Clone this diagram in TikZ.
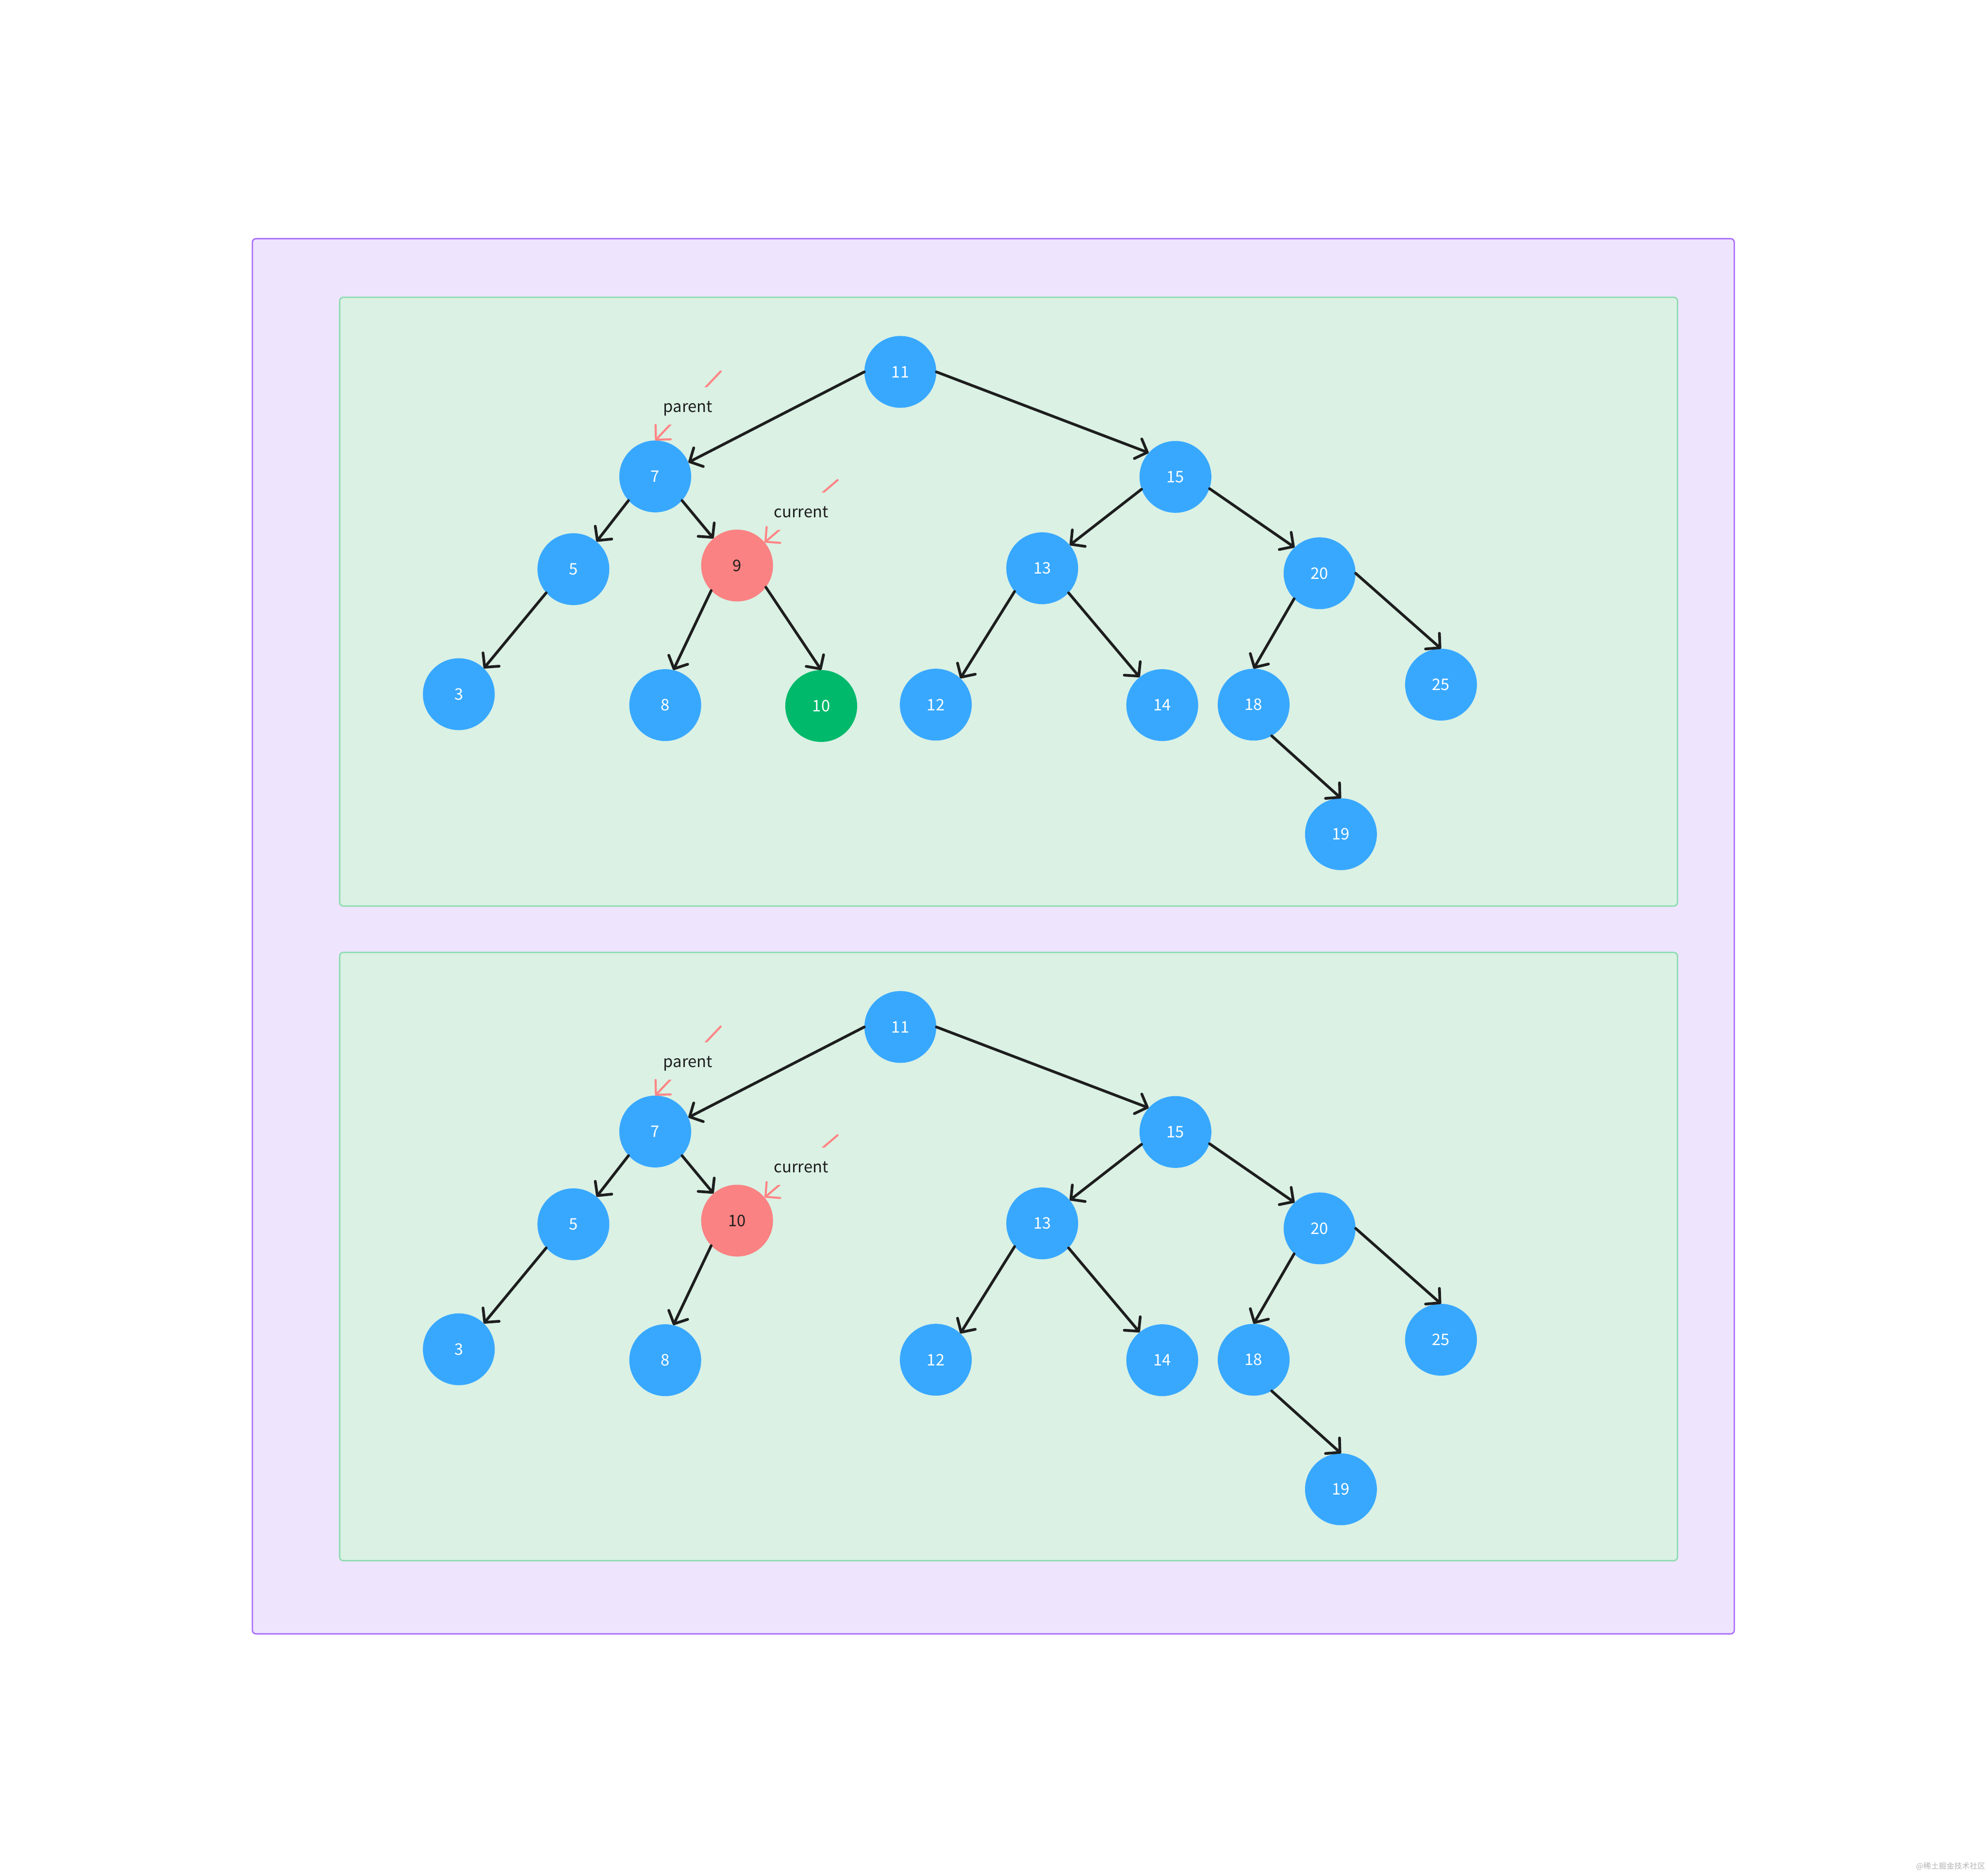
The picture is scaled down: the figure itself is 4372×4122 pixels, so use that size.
\documentclass[tikz,border=0pt]{standalone}
\usepackage{fontspec}
\usetikzlibrary{arrows.meta}
\newfontfamily\srcfont{Noto Sans CJK SC}
\definecolor{nodeblue}{HTML}{38A8FF}
\definecolor{nodered}{HTML}{FA8282}
\definecolor{nodegreen}{HTML}{00B96B}
\definecolor{ptrcol}{HTML}{FF8585}
\definecolor{greenbg}{HTML}{DAF1E4}
\definecolor{greenbd}{HTML}{8CDCAF}
\definecolor{purplebg}{HTML}{EEE4FE}
\definecolor{purplebd}{HTML}{A86EFA}
\definecolor{edgecol}{HTML}{1E1E1E}
\definecolor{wmcol}{HTML}{B4B4B4}
\tikzset{
  bnode/.style={circle, fill=nodeblue, minimum size=158pt, inner sep=0pt, text=white,
    font=\srcfont\fontsize{35}{42}\selectfont},
  rnode/.style={bnode, fill=nodered, text=edgecol},
  gnode/.style={bnode, fill=nodegreen},
  edge/.style={draw=edgecol, line width=6pt, line cap=round,
    -{Straight Barb[length=22pt,width=46pt,line cap=round,line join=round]}},
  ptr/.style={draw=ptrcol, line width=4.5pt, line cap=round,
    -{Straight Barb[length=23pt,width=46pt,line cap=round,line join=round]}},
  ptrlabel/.style={fill=greenbg, text=edgecol, font=\srcfont\fontsize{35}{42}\selectfont,
    inner xsep=4pt, inner ysep=25pt, text height=30pt, text depth=2pt},
  panel/.style={fill=greenbg, draw=greenbd, line width=3pt, rounded corners=8pt},
  outerpanel/.style={fill=purplebg, draw=purplebd, line width=3pt, rounded corners=8pt}
}
\begin{document}
\begin{tikzpicture}[x=1pt, y=-1pt]
\useasboundingbox (0,0) rectangle (4372,4122);
\fill[white] (0,0) rectangle (4372,4122);
\draw[outerpanel] (555,525) rectangle (3814,3594);
\draw[panel] (747,654) rectangle (3689,1993);
\draw[panel] (747,2095) rectangle (3689,3433);

% ---------- top tree ----------
\node[bnode] (a11) at (1980,818) {11};
\node[bnode] (a7)  at (1441,1048) {7};
\node[bnode] (a15) at (2585,1049) {15};
\node[bnode] (a5)  at (1261,1252) {5};
\node[rnode] (a9)  at (1621,1244) {9};
\node[bnode] (a13) at (2292,1250) {13};
\node[bnode] (a20) at (2902,1261) {20};
\node[bnode] (a3)  at (1009,1527) {3};
\node[bnode] (a8)  at (1463,1551) {8};
\node[gnode] (a10) at (1806,1553) {10};
\node[bnode] (a12) at (2058,1550) {12};
\node[bnode] (a14) at (2556,1551) {14};
\node[bnode] (a18) at (2757,1550) {18};
\node[bnode] (a25) at (3169,1506) {25};
\node[bnode] (a19) at (2949,1835) {19};

\draw[edge] (a11.west) -- (a7.23);
\draw[edge] (a11.east) -- (a15.138);
\draw[edge] (a7.222) -- (a5.50);
\draw[edge] (a7.318) -- (a9.131);
\draw[edge] (a5.221) -- (a3.46);
\draw[edge] (a9.224) -- (a8.77);
\draw[edge] (a9.323) -- (a10.north);
\draw[edge] (a15.200) -- (a13.40);
\draw[edge] (a15.341) -- (a20.134);
\draw[edge] (a13.220) -- (a12.47);
\draw[edge] (a13.317) -- (a14.129);
\draw[edge] (a20.225) -- (a18.north);
\draw[edge] (a20.east) -- (a25.north);
\draw[edge] (a18.300) -- (a19.north);

\coordinate (apstart) at (1585,817);
\coordinate (acstart) at (1842,1056);
\draw[ptr] (apstart) -- node[ptrlabel] (aplabel) {parent} (a7.north);
\draw[ptr] (acstart) -- node[ptrlabel] (aclabel) {current} (a9.40);

% ---------- bottom tree ----------
\begin{scope}[shift={(0,1441)}]
\node[bnode] (b11) at (1980,818) {11};
\node[bnode] (b7)  at (1441,1048) {7};
\node[bnode] (b15) at (2585,1049) {15};
\node[bnode] (b5)  at (1261,1252) {5};
\node[rnode] (b10) at (1621,1244) {10};
\node[bnode] (b13) at (2292,1250) {13};
\node[bnode] (b20) at (2902,1261) {20};
\node[bnode] (b3)  at (1009,1527) {3};
\node[bnode] (b8)  at (1463,1551) {8};
\node[bnode] (b12) at (2058,1550) {12};
\node[bnode] (b14) at (2556,1551) {14};
\node[bnode] (b18) at (2757,1550) {18};
\node[bnode] (b25) at (3169,1506) {25};
\node[bnode] (b19) at (2949,1835) {19};

\draw[edge] (b11.west) -- (b7.23);
\draw[edge] (b11.east) -- (b15.138);
\draw[edge] (b7.222) -- (b5.50);
\draw[edge] (b7.318) -- (b10.131);
\draw[edge] (b5.221) -- (b3.46);
\draw[edge] (b10.224) -- (b8.77);
\draw[edge] (b15.200) -- (b13.40);
\draw[edge] (b15.341) -- (b20.134);
\draw[edge] (b13.220) -- (b12.47);
\draw[edge] (b13.317) -- (b14.129);
\draw[edge] (b20.225) -- (b18.north);
\draw[edge] (b20.east) -- (b25.north);
\draw[edge] (b18.300) -- (b19.north);

\coordinate (bpstart) at (1585,817);
\coordinate (bcstart) at (1842,1056);
\draw[ptr] (bpstart) -- node[ptrlabel] (bplabel) {parent} (b7.north);
\draw[ptr] (bcstart) -- node[ptrlabel] (bclabel) {current} (b10.40);
\end{scope}

% watermark
\node[anchor=east, text=wmcol, inner sep=0pt, font=\srcfont\fontsize{17}{20}\selectfont] (wm) at (4366,4105) {@稀土掘金技术社区};
\end{tikzpicture}
\end{document}
